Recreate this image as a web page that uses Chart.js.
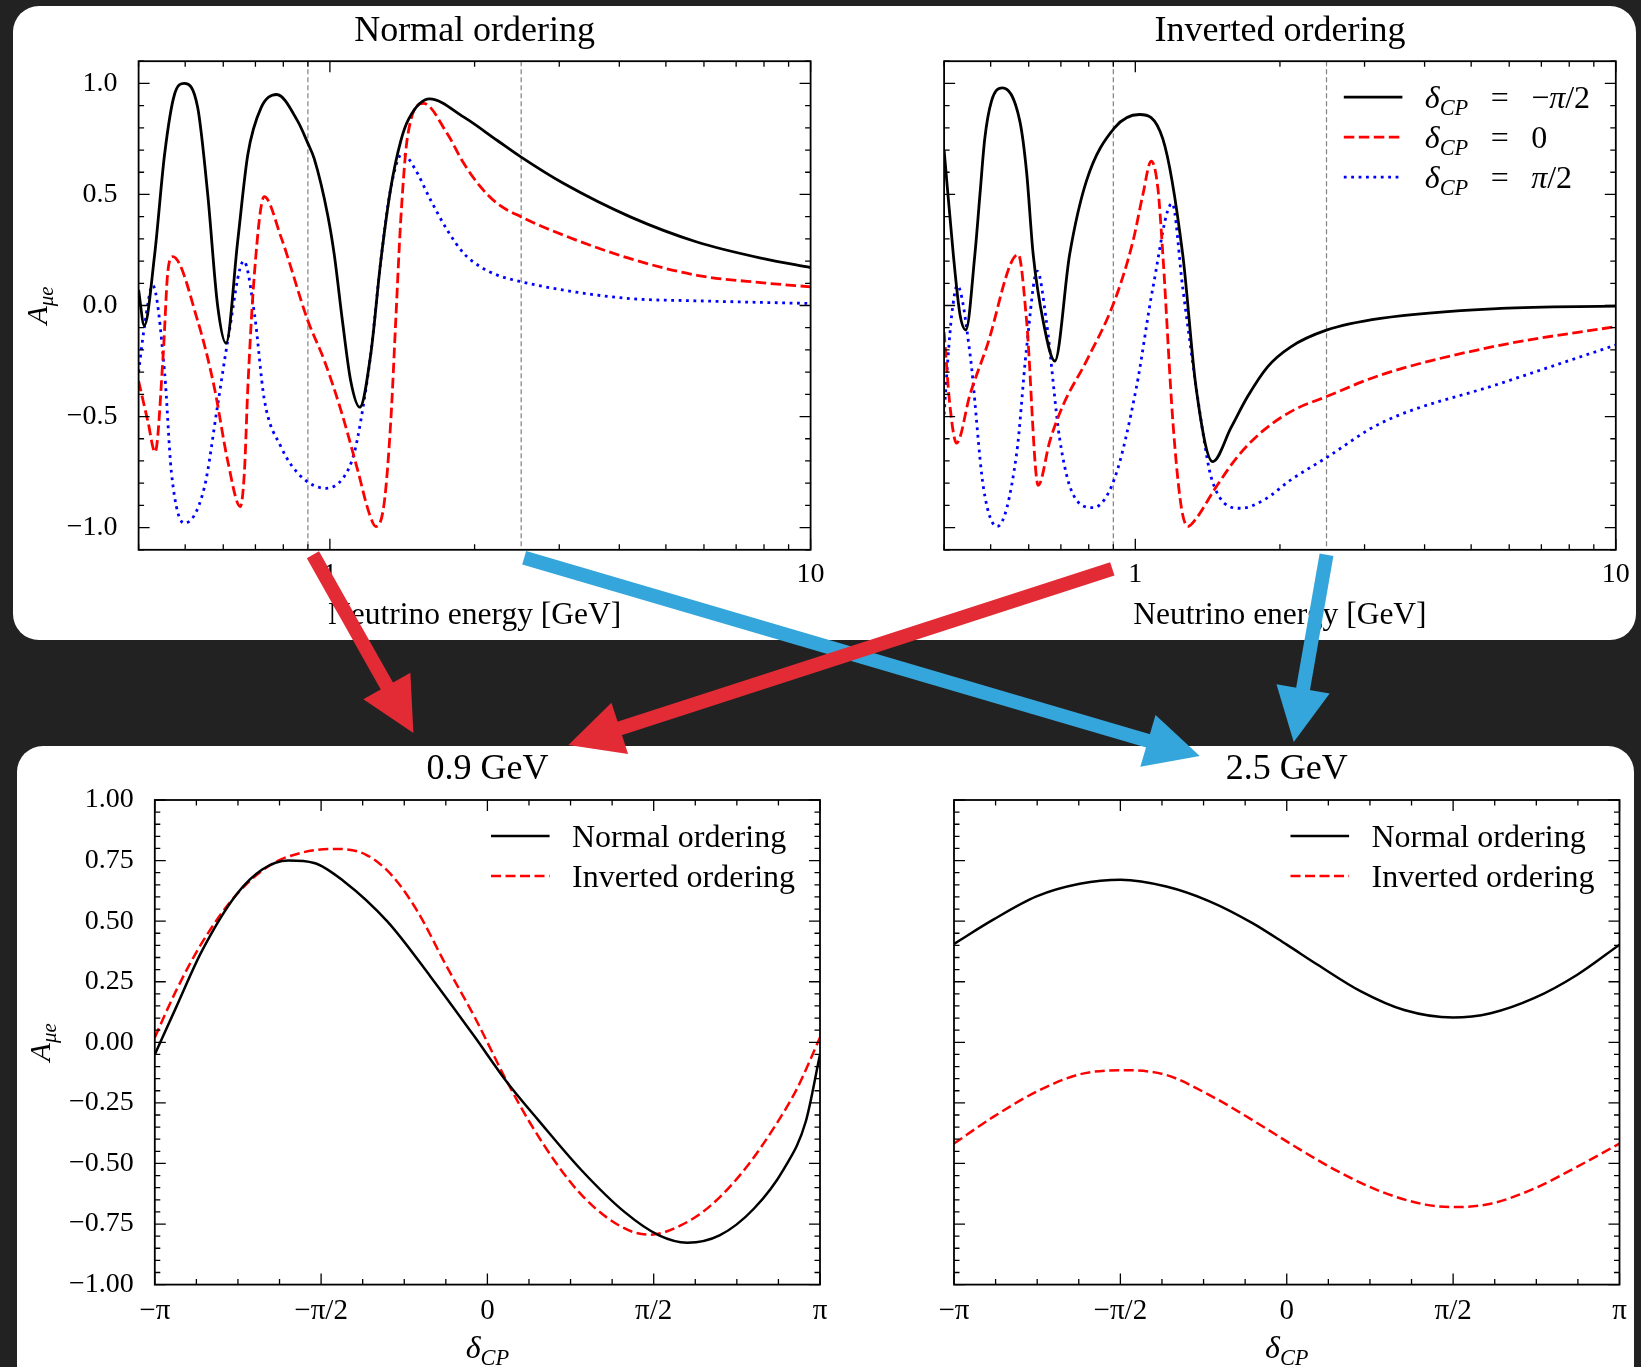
<!DOCTYPE html>
<html>
<head>
<meta charset="utf-8">
<title>CP asymmetry vs energy and delta_CP</title>
<script src="https://cdn.jsdelivr.net/npm/chart.js"></script>
<style>
  html, body { margin: 0; padding: 0; background: #222222; }
  body { position: relative; width: 1641px; height: 1367px; overflow: hidden; }
  .panel { position: absolute; background: #ffffff; border-radius: 26px; }
  canvas { position: absolute; }
</style>
</head>
<body>
<div class="panel" style="left:13px; top:6px; width:1623px; height:634px;"></div>
<div class="panel" style="left:17px; top:746px; width:1617px; height:660px;"></div>
<canvas id="normalChart" width="830" height="640" style="left:0px; top:0px;"></canvas>
<canvas id="invertedChart" width="811" height="640" style="left:830px; top:0px;"></canvas>
<canvas id="lowChart" width="830" height="621" style="left:0px; top:746px;"></canvas>
<canvas id="highChart" width="811" height="621" style="left:830px; top:746px;"></canvas>
<canvas id="arrows" width="1641" height="1367" style="left:0px; top:0px;"></canvas>
<script>
// ---- top panels: A_mue vs neutrino energy (GeV) ----
// normal ordering
const normalEnergyNeg = [0.400, 0.411, 0.432, 0.453, 0.475, 0.498, 0.531, 0.557, 0.584, 0.608, 0.643, 0.675, 0.719, 0.775, 0.857, 0.900, 0.928, 0.989, 1.021, 1.062, 1.105, 1.154, 1.216, 1.276, 1.339, 1.404, 1.459, 1.612, 1.90, 2.23, 2.5, 3.066, 4.217, 5.80, 7.98, 10];
const normalAsymNeg = [0.07, -0.09, 0.23, 0.68, 0.95, 1.00, 0.89, 0.50, 0.00, -0.17, 0.29, 0.68, 0.89, 0.95, 0.83, 0.73, 0.66, 0.41, 0.23, -0.07, -0.34, -0.458, -0.22, 0.20, 0.53, 0.74, 0.84, 0.93, 0.848, 0.743, 0.668, 0.549, 0.399, 0.286, 0.211, 0.171];
const normalEnergyZero = [0.400, 0.418, 0.433, 0.450, 0.460, 0.471, 0.531, 0.575, 0.613, 0.651, 0.664, 0.675, 0.697, 0.730, 0.791, 0.899, 0.973, 1.054, 1.142, 1.207, 1.246, 1.297, 1.339, 1.371, 1.404, 1.45, 1.565, 1.755, 1.90, 2.058, 2.23, 2.5, 3.066, 4.217, 5.80, 7.98, 10];
const normalAsymZero = [-0.34, -0.52, -0.66, -0.22, 0.15, 0.22, -0.07, -0.37, -0.70, -0.905, -0.75, -0.37, 0.15, 0.49, 0.309, -0.066, -0.246, -0.471, -0.74, -0.935, -0.995, -0.89, -0.516, -0.066, 0.384, 0.758, 0.91, 0.773, 0.639, 0.534, 0.459, 0.399, 0.316, 0.211, 0.136, 0.102, 0.084];
const normalEnergyPos = [0.400, 0.411, 0.428, 0.453, 0.468, 0.498, 0.548, 0.584, 0.613, 0.662, 0.697, 0.730, 0.791, 0.871, 0.981, 1.071, 1.123, 1.16, 1.216, 1.276, 1.339, 1.416, 1.496, 1.621, 1.755, 1.90, 2.058, 2.23, 2.5, 3.066, 4.217, 5.80, 10];
const normalAsymPos = [-0.30, -0.10, 0.09, -0.30, -0.75, -0.98, -0.82, -0.45, -0.16, 0.20, -0.04, -0.42, -0.636, -0.77, -0.823, -0.77, -0.666, -0.516, -0.22, 0.20, 0.53, 0.684, 0.623, 0.474, 0.339, 0.234, 0.174, 0.137, 0.107, 0.069, 0.031, 0.021, 0.009];
// inverted ordering
const invertedEnergyNeg = [0.400, 0.418, 0.4316, 0.444, 0.4636, 0.475, 0.486, 0.502, 0.529, 0.575, 0.594, 0.613, 0.643, 0.680, 0.730, 0.791, 0.905, 1.02, 1.141, 1.255, 1.338, 1.449, 1.582, 1.713, 1.885, 2.107, 2.499, 3.24, 5.77, 10];
const invertedAsymNeg = [0.70, 0.23, -0.04, -0.11, 0.23, 0.50, 0.75, 0.92, 0.98, 0.83, 0.60, 0.23, -0.07, -0.25, 0.23, 0.56, 0.80, 0.86, 0.75, 0.23, -0.37, -0.703, -0.55, -0.41, -0.276, -0.186, -0.111, -0.058, -0.013, -0.003];
const invertedEnergyZero = [0.400, 0.4113, 0.4246, 0.453, 0.49, 0.5706, 0.594, 0.628, 0.664, 0.707, 0.791, 0.905, 0.989, 1.037, 1.079, 1.114, 1.141, 1.197, 1.245, 1.286, 1.338, 1.46, 1.633, 1.854, 2.14, 2.5, 3.24, 5.77, 10];
const invertedAsymZero = [-0.12, -0.45, -0.62, -0.40, -0.19, 0.23, -0.07, -0.81, -0.61, -0.45, -0.25, 0.02, 0.29, 0.50, 0.65, 0.53, 0.23, -0.52, -0.90, -0.995, -0.96, -0.83, -0.68, -0.56, -0.47, -0.41, -0.313, -0.178, -0.095];
const invertedEnergyPos = [0.400, 0.408, 0.415, 0.426, 0.453, 0.483, 0.516, 0.566, 0.594, 0.625, 0.653, 0.696, 0.742, 0.817, 0.905, 1.005, 1.088, 1.193, 1.255, 1.36, 1.426, 1.46, 1.532, 1.659, 1.854, 2.107, 2.5, 3.24, 5.77, 10];
const invertedAsymPos = [-0.49, -0.22, -0.04, 0.09, -0.22, -0.82, -0.995, -0.67, -0.19, 0.155, -0.07, -0.60, -0.85, -0.91, -0.78, -0.37, 0.08, 0.46, 0.08, -0.47, -0.74, -0.815, -0.89, -0.913, -0.875, -0.785, -0.685, -0.53, -0.35, -0.178];

const guideEnergies = [0.9, 2.5];
const energyTicks = [1, 10];
const energyTickLabels = ['1', '10'];
const energyMinor = [0.4, 0.5, 0.6, 0.7, 0.8, 0.9, 2, 3, 4, 5, 6, 7, 8, 9];
const asymTicksTop = [-1, -0.5, 0, 0.5, 1];

// ---- bottom panels: A_mue vs delta_CP (in units of pi) ----
const deltaLowNormal = [-1, -0.937, -0.859, -0.755, -0.677, -0.599, -0.521, -0.431, -0.301, -0.171, -0.042, 0.062, 0.153, 0.283, 0.412, 0.516, 0.601, 0.698, 0.801, 0.892, 0.957, 1];
const asymLowNormal = [-0.05, 0.141, 0.375, 0.609, 0.713, 0.750, 0.740, 0.664, 0.499, 0.271, 0.030, -0.170, -0.321, -0.528, -0.700, -0.797, -0.827, -0.797, -0.687, -0.521, -0.328, -0.05];
const deltaLowInverted = [-1, -0.937, -0.859, -0.755, -0.651, -0.560, -0.457, -0.366, -0.288, -0.210, -0.129, -0.035, 0.06, 0.127, 0.218, 0.283, 0.361, 0.438, 0.490, 0.581, 0.672, 0.775, 0.866, 0.931, 1];
const asymLowInverted = [0.02, 0.21, 0.409, 0.609, 0.733, 0.782, 0.798, 0.775, 0.69, 0.54, 0.33, 0.095, -0.165, -0.33, -0.52, -0.63, -0.725, -0.783, -0.794, -0.756, -0.673, -0.522, -0.343, -0.191, 0.02];
const deltaHighNormal = [-1, -0.882, -0.752, -0.622, -0.499, -0.362, -0.232, -0.103, 0, 0.093, 0.223, 0.353, 0.5, 0.613, 0.743, 0.872, 1];
const asymHighNormal = [0.406, 0.506, 0.602, 0.654, 0.671, 0.643, 0.582, 0.492, 0.403, 0.320, 0.210, 0.133, 0.102, 0.120, 0.182, 0.278, 0.403];
const deltaHighInverted = [-1, -0.882, -0.752, -0.622, -0.492, -0.362, -0.232, -0.103, 0.027, 0.157, 0.287, 0.417, 0.502, 0.613, 0.743, 0.872, 1];
const asymHighInverted = [-0.418, -0.308, -0.204, -0.132, -0.115, -0.135, -0.218, -0.321, -0.432, -0.535, -0.618, -0.670, -0.680, -0.666, -0.604, -0.514, -0.418];

const deltaTicks = [-1, -0.5, 0, 0.5, 1];
const deltaTickLabels = ['\u2212\u03c0', '\u2212\u03c0/2', '0', '\u03c0/2', '\u03c0'];
const asymTicksBottom = [-1, -0.75, -0.5, -0.25, 0, 0.25, 0.5, 0.75, 1];

const SERIF = "'Liberation Serif', 'Times New Roman', serif";
Chart.defaults.font.family = SERIF;
Chart.defaults.color = '#000';
Chart.defaults.animation = false;

function pts(xs, ys) {
    return xs.map(function (x, i) { return {x: x, y: ys[i]}; });
}
function fmt(v, digits) {
    return v.toFixed(digits).replace('-', '\u2212');
}

let topYMinor = [], bottomYMinor = [], bottomXMinor = [];
for (let k = -11; k <= 11; k++) if (k % 5 !== 0) topYMinor.push(k / 10);
for (let k = -20; k <= 20; k++) if (k % 5 !== 0) bottomYMinor.push(k / 20);
for (let k = -8; k <= 8; k++) if (k % 4 !== 0) bottomXMinor.push(k / 8);

// text with italic / subscript pieces: kind 'r' roman, 'i' italic, 's' italic subscript
function drawMath(ctx, parts, x, y, size, align) {
    function font(k) {
        return (k === 'r' ? '' : 'italic ') + (k === 's' ? size * 0.7 : size) + 'px ' + SERIF;
    }
    let w = 0;
    parts.forEach(function (p) { ctx.font = font(p[1]); w += ctx.measureText(p[0]).width; });
    let cx = align === 'center' ? x - w / 2 : x;
    ctx.textAlign = 'left';
    ctx.textBaseline = 'alphabetic';
    parts.forEach(function (p) {
        ctx.font = font(p[1]);
        ctx.fillText(p[0], cx, p[1] === 's' ? y + size * 0.22 : y);
        cx += ctx.measureText(p[0]).width;
    });
}

const framePlugin = {
    id: 'frame',
    beforeDatasetsDraw(chart, args, o) {
        const ctx = chart.ctx, a = chart.chartArea, x = chart.scales.x;
        ctx.save();
        ctx.strokeStyle = '#808080';
        ctx.lineWidth = 1.2;
        ctx.setLineDash([5, 3]);
        (o.guides || []).forEach(function (e) {
            const px = x.getPixelForValue(e);
            ctx.beginPath();
            ctx.moveTo(px, a.top);
            ctx.lineTo(px, a.bottom);
            ctx.stroke();
        });
        ctx.restore();
    },
    afterDatasetsDraw(chart, args, o) {
        const ctx = chart.ctx, a = chart.chartArea, x = chart.scales.x, y = chart.scales.y;
        ctx.save();
        ctx.strokeStyle = '#000';
        ctx.lineWidth = 1.3;
        ctx.beginPath();
        [[o.xMajor, 11], [o.xMinor, 5.5]].forEach(function (t) {
            t[0].forEach(function (v) {
                const px = x.getPixelForValue(v);
                ctx.moveTo(px, a.bottom); ctx.lineTo(px, a.bottom - t[1]);
                ctx.moveTo(px, a.top); ctx.lineTo(px, a.top + t[1]);
            });
        });
        [[o.yMajor, 11], [o.yMinor, 5.5]].forEach(function (t) {
            t[0].forEach(function (v) {
                const py = y.getPixelForValue(v);
                ctx.moveTo(a.left, py); ctx.lineTo(a.left + t[1], py);
                ctx.moveTo(a.right, py); ctx.lineTo(a.right - t[1], py);
            });
        });
        ctx.stroke();
        ctx.lineWidth = 1.8;
        ctx.strokeRect(a.left, a.top, a.right - a.left, a.bottom - a.top);

        // legend inside the axes, top right
        if (o.legend) {
            const x0 = a.right - o.legend.offset;
            o.legend.rows.forEach(function (parts, i) {
                const ds = chart.data.datasets[i];
                const ry = a.top + 36 + i * 40;
                ctx.strokeStyle = ds.borderColor;
                ctx.lineWidth = ds.borderWidth;
                ctx.setLineDash(ds.borderDash || []);
                ctx.beginPath();
                ctx.moveTo(x0, ry);
                ctx.lineTo(x0 + 58.6, ry);
                ctx.stroke();
                ctx.setLineDash([]);
                ctx.fillStyle = '#000';
                drawMath(ctx, parts, x0 + 81, ry + 11, 32, 'left');
            });
        }
        ctx.restore();
    },
    afterDraw(chart, args, o) {
        const ctx = chart.ctx, a = chart.chartArea;
        ctx.fillStyle = '#000';
        if (o.yLabel) {
            ctx.save();
            ctx.translate(a.left - o.yLabel.offset, (a.top + a.bottom) / 2);
            ctx.rotate(-Math.PI / 2);
            drawMath(ctx, o.yLabel.parts, 0, 0, 30, 'center');
            ctx.restore();
        }
        if (o.xLabel) {
            ctx.save();
            drawMath(ctx, o.xLabel.parts, (a.left + a.right) / 2, a.bottom + o.xLabel.offset, 32, 'center');
            ctx.restore();
        }
    }
};

const asymLabel = [['A', 'i'], ['\u03bce', 's']];
const deltaLabel = [['\u03b4', 'i'], ['CP', 's']];
const EQ = '\u2002\u2009=\u2002\u2009';

function topSet(data, kind) {
    const styles = {
        solid: {borderColor: '#000000', borderDash: []},
        dashed: {borderColor: '#ff0000', borderDash: [10.5, 4.5]},
        dotted: {borderColor: '#0000ff', borderDash: [2.8, 4.6]}
    };
    return Object.assign({data: data, pointRadius: 0, fill: false, borderWidth: 2.8,
        cubicInterpolationMode: 'monotone'}, styles[kind]);
}
function bottomSet(data, kind) {
    const styles = {
        solid: {borderColor: '#000000', borderDash: []},
        dashed: {borderColor: '#ff0000', borderDash: [10, 4.5]}
    };
    return Object.assign({data: data, pointRadius: 0, fill: false, borderWidth: 2.5,
        cubicInterpolationMode: 'monotone'}, styles[kind]);
}

function makeChart(canvasId, datasets, spec) {
    const energy = spec.kind === 'energy';
    const xScale = energy ? {
        type: 'logarithmic', min: 0.4, max: 10,
        afterBuildTicks: function (s) { s.ticks = energyTicks.map(function (v) { return {value: v}; }); },
        ticks: {font: {size: 28}, padding: 0, autoSkip: false, maxRotation: 0,
            callback: function (v) { return energyTickLabels[energyTicks.indexOf(v)]; }},
        title: {display: true, text: 'Neutrino energy [GeV]', font: {size: 31.5}, padding: {top: 0, bottom: 5}}
    } : {
        type: 'linear', min: -1, max: 1,
        afterBuildTicks: function (s) { s.ticks = deltaTicks.map(function (v) { return {value: v}; }); },
        ticks: {font: {size: 29}, padding: 1, autoSkip: false, maxRotation: 0,
            callback: function (v) { return deltaTickLabels[deltaTicks.indexOf(v)]; }}
    };
    xScale.grid = {display: false};
    xScale.border = {display: false};
    xScale.afterFit = function (s) { s.height = spec.xHeight; };

    const yTicks = energy ? asymTicksTop : asymTicksBottom;
    const yScale = {
        type: 'linear',
        min: energy ? -1.1 : -1,
        max: energy ? 1.1 : 1,
        grid: {display: false},
        border: {display: false},
        afterBuildTicks: function (s) { s.ticks = yTicks.map(function (v) { return {value: v}; }); },
        afterFit: function (s) { s.width = spec.yWidth; },
        ticks: {display: spec.yLabels, font: {size: 28}, padding: 13, autoSkip: false,
            callback: function (v) { return fmt(v, energy ? 1 : 2); }}
    };

    return new Chart(document.getElementById(canvasId), {
        type: 'line',
        data: {datasets: datasets},
        options: {
            responsive: false,
            animation: false,
            layout: {padding: {left: 0, top: 0, right: spec.padRight, bottom: 0}},
            plugins: {
                legend: {display: false},
                tooltip: {enabled: false},
                title: {display: true, text: spec.title, fullSize: false, color: '#000',
                    font: {family: SERIF, size: 36, weight: 'normal'}, padding: spec.titlePad},
                frame: {
                    guides: energy ? guideEnergies : [],
                    xMajor: energy ? energyTicks : deltaTicks,
                    xMinor: energy ? energyMinor : bottomXMinor,
                    yMajor: yTicks,
                    yMinor: energy ? topYMinor : bottomYMinor,
                    legend: spec.legend,
                    yLabel: spec.yLabel,
                    xLabel: spec.xLabel
                }
            },
            scales: {x: xScale, y: yScale}
        },
        plugins: [framePlugin]
    });
}

const normalChart = makeChart('normalChart', [
    topSet(pts(normalEnergyNeg, normalAsymNeg), 'solid'),
    topSet(pts(normalEnergyZero, normalAsymZero), 'dashed'),
    topSet(pts(normalEnergyPos, normalAsymPos), 'dotted')
], {kind: 'energy', title: 'Normal ordering', xHeight: 90.2, yWidth: 138.6, padRight: 19.4,
    titlePad: {top: 9.8, bottom: 8.2}, yLabels: true,
    yLabel: {parts: asymLabel, offset: 92}});

const invertedChart = makeChart('invertedChart', [
    topSet(pts(invertedEnergyNeg, invertedAsymNeg), 'solid'),
    topSet(pts(invertedEnergyZero, invertedAsymZero), 'dashed'),
    topSet(pts(invertedEnergyPos, invertedAsymPos), 'dotted')
], {kind: 'energy', title: 'Inverted ordering', xHeight: 90.2, yWidth: 114.1, padRight: 25.2,
    titlePad: {top: 9.8, bottom: 8.2}, yLabels: false,
    legend: {offset: 272, rows: [
        [['\u03b4', 'i'], ['CP', 's'], [EQ + '\u2212', 'r'], ['\u03c0', 'i'], ['/2', 'r']],
        [['\u03b4', 'i'], ['CP', 's'], [EQ + '0', 'r']],
        [['\u03b4', 'i'], ['CP', 's'], [EQ, 'r'], ['\u03c0', 'i'], ['/2', 'r']]
    ]}});

const orderingLegend = {offset: 329, rows: [[['Normal ordering', 'r']], [['Inverted ordering', 'r']]]};

const lowChart = makeChart('lowChart', [
    bottomSet(pts(deltaLowNormal, asymLowNormal), 'solid'),
    bottomSet(pts(deltaLowInverted, asymLowInverted), 'dashed')
], {kind: 'delta', title: '0.9 GeV', xHeight: 82.4, yWidth: 154.8, padRight: 10,
    titlePad: {top: 2.4, bottom: 8.4}, yLabels: true, legend: orderingLegend,
    yLabel: {parts: asymLabel, offset: 105}, xLabel: {parts: deltaLabel, offset: 73.5}});

const highChart = makeChart('highChart', [
    bottomSet(pts(deltaHighNormal, asymHighNormal), 'solid'),
    bottomSet(pts(deltaHighInverted, asymHighInverted), 'dashed')
], {kind: 'delta', title: '2.5 GeV', xHeight: 82.4, yWidth: 124, padRight: 21.5,
    titlePad: {top: 2.4, bottom: 8.4}, yLabels: false, legend: orderingLegend,
    xLabel: {parts: deltaLabel, offset: 73.5}});

// arrows from the energy guide lines to the fixed-energy panels
const arrowSpecs = [
    {color: '#35a6db', from: normalChart, energy: 2.5, tail: [3, 8], to: highChart, tip: [-87, -12]},
    {color: '#35a6db', from: invertedChart, energy: 2.5, tail: [0, 5], to: highChart, tip: [7, -26]},
    {color: '#e32b36', from: normalChart, energy: 0.9, tail: [5, 5], to: lowChart, tip: [-74, -35]},
    {color: '#e32b36', from: invertedChart, energy: 0.9, tail: [-1, 19], to: lowChart, tip: [81, -23]}
];

function drawArrows() {
    const ctx = document.getElementById('arrows').getContext('2d');
    arrowSpecs.forEach(function (s) {
        const fc = s.from.canvas, tc = s.to.canvas;
        const fa = s.from.chartArea, ta = s.to.chartArea;
        const x0 = fc.offsetLeft + s.from.scales.x.getPixelForValue(s.energy) + s.tail[0];
        const y0 = fc.offsetTop + fa.bottom + s.tail[1];
        const x1 = tc.offsetLeft + (ta.left + ta.right) / 2 + s.tip[0];
        const y1 = tc.offsetTop + ta.top - 32 + s.tip[1];
        const len = Math.hypot(x1 - x0, y1 - y0);
        const ux = (x1 - x0) / len, uy = (y1 - y0) / len;
        const head = 54, half = 27;
        const bx = x1 - ux * head, by = y1 - uy * head;
        ctx.strokeStyle = s.color;
        ctx.fillStyle = s.color;
        ctx.lineWidth = 14;
        ctx.lineCap = 'butt';
        ctx.beginPath();
        ctx.moveTo(x0, y0);
        ctx.lineTo(bx + ux * 2, by + uy * 2);
        ctx.stroke();
        ctx.beginPath();
        ctx.moveTo(x1, y1);
        ctx.lineTo(bx - uy * half, by + ux * half);
        ctx.lineTo(bx + uy * half, by - ux * half);
        ctx.closePath();
        ctx.fill();
    });
}
drawArrows();
</script>
</body>
</html>
